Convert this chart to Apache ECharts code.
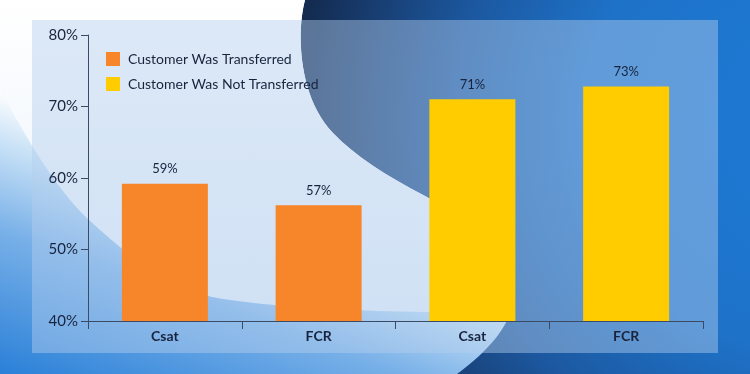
<!DOCTYPE html>
<html>
<head>
<meta charset="utf-8">
<script src="https://cdn.jsdelivr.net/npm/echarts@6/dist/echarts.min.js"></script>
<style>
html,body{margin:0;padding:0;background:#ffffff;overflow:hidden;}
#wrap{position:relative;width:750px;height:374px;}
#bg{position:absolute;left:0;top:0;}
#chart{position:absolute;left:0;top:0;width:750px;height:374px;}
</style>
</head>
<body>
<div id="wrap">
<svg id="bg" width="750" height="374" viewBox="0 0 750 374" xmlns="http://www.w3.org/2000/svg">
  <defs>
    <radialGradient id="gDark" gradientUnits="userSpaceOnUse" cx="820" cy="120" r="520">
      <stop offset="0" stop-color="#1e7bd6"/>
      <stop offset="0.45" stop-color="#1e72c8"/>
      <stop offset="0.7" stop-color="#1c58a0"/>
      <stop offset="0.88" stop-color="#183e72"/>
      <stop offset="1" stop-color="#142c52"/>
    </radialGradient>
    <linearGradient id="gLight" gradientUnits="userSpaceOnUse" x1="0" y1="374" x2="90" y2="120">
      <stop offset="0" stop-color="#2a80d8"/>
      <stop offset="0.5" stop-color="#78b0e8"/>
      <stop offset="0.8" stop-color="#c6e0f6"/>
      <stop offset="1" stop-color="#ffffff"/>
    </linearGradient>
    <linearGradient id="gPale" gradientUnits="userSpaceOnUse" x1="0" y1="0" x2="0" y2="312">
      <stop offset="0" stop-color="#ffffff"/>
      <stop offset="1" stop-color="#e8f1fb"/>
    </linearGradient>
  </defs>
  <rect x="0" y="0" width="750" height="374" fill="url(#gDark)"/>
  <path d="M0,0 L305,0 C297,30 297,95 333,133 C355,156 385,175 425,196 C470,220 510,250 514,290 C516,320 490,350 457,374 L0,374 Z" fill="url(#gLight)"/>
  <path d="M0,0 L305,0 C297,30 297,95 333,133 C355,156 385,175 425,196 C470,220 510,250 514,290 L514,312 L425,312 C340,311 260,306 212,297 C170,288 130,258 88,219 C55,188 25,135 0,90 Z" fill="url(#gPale)"/>
  <rect x="32" y="20" width="686" height="333" fill="rgba(179,206,237,0.45)"/>
</svg>
<div id="chart"></div>
</div>
<script>
// ---- data ----
const categories = ['Csat', 'FCR', 'Csat', 'FCR'];
const seriesNames = ['Customer Was Transferred', 'Customer Was Not Transferred'];
const transferredValues = [59.2, 56.2, '-', '-'];
const notTransferredValues = ['-', '-', 71.0, 72.8];
const transferredLabels = ['59%', '57%', '', ''];
const notTransferredLabels = ['', '', '71%', '73%'];
const yMin = 40, yMax = 80, yStep = 10;

const textColor = '#18243e';
const axisColor = '#3b4b66';
const font = 'Lato';

const chart = echarts.init(document.getElementById('chart'), null, {renderer: 'canvas'});

chart.setOption({
  backgroundColor: 'transparent',
  animation: false,
  textStyle: {fontFamily: font},
  legend: {
    orient: 'vertical', left: 106, top: 52, padding: 0,
    itemWidth: 14, itemHeight: 14, itemGap: 11,
    icon: 'rect',
    data: seriesNames,
    textStyle: {fontFamily: font, fontSize: 14, color: textColor, lineHeight: 14, padding: [0, 0, 0, 3]}
  },
  grid: {left: 88, right: 47, top: 35, bottom: 53, containLabel: false},
  xAxis: {
    type: 'category', data: categories,
    axisLine: {show: true, lineStyle: {color: axisColor, width: 1}},
    axisTick: {show: true, length: 8, lineStyle: {color: axisColor}},
    axisLabel: {fontFamily: font, fontSize: 14, fontWeight: 'bold', color: textColor, margin: 8}
  },
  yAxis: {
    type: 'value', min: yMin, max: yMax, interval: yStep,
    axisLine: {show: true, lineStyle: {color: axisColor, width: 1}},
    axisTick: {show: true, length: 7, lineStyle: {color: axisColor}},
    splitLine: {show: false},
    axisLabel: {formatter: '{value}%', fontFamily: font, fontSize: 15, color: textColor, margin: 10}
  },
  series: [
    {
      name: seriesNames[0], type: 'bar', data: transferredValues,
      barWidth: 86, barGap: '-100%',
      itemStyle: {color: '#f7862a'},
      label: {show: true, position: 'top', distance: 8, fontFamily: font, fontSize: 13, color: textColor,
        formatter: p => transferredLabels[p.dataIndex]}
    },
    {
      name: seriesNames[1], type: 'bar', data: notTransferredValues,
      barWidth: 86, barGap: '-100%',
      itemStyle: {color: '#ffcc00'},
      label: {show: true, position: 'top', distance: 8, fontFamily: font, fontSize: 13, color: textColor,
        formatter: p => notTransferredLabels[p.dataIndex]}
    }
  ]
});
</script>
</body>
</html>
